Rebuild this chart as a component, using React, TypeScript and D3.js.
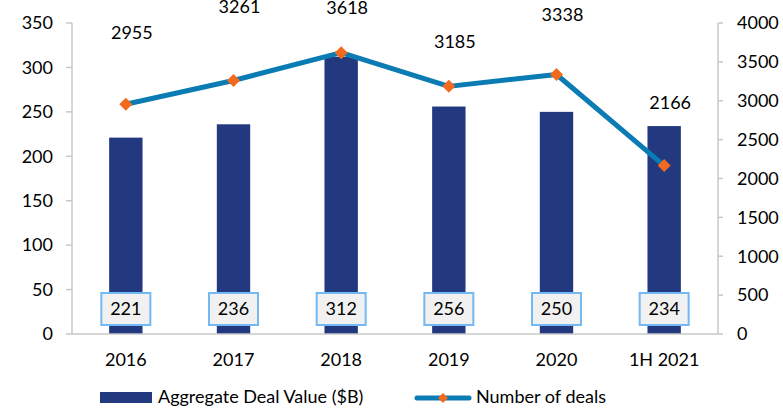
import React from "react";
import * as d3 from "d3";

const categories = ["2016", "2017", "2018", "2019", "2020", "1H 2021"];
const dealValue = [221, 236, 312, 256, 250, 234];
const dealCount = [2955, 3261, 3618, 3185, 3338, 2166];
const leftTicks = [0, 50, 100, 150, 200, 250, 300, 350];
const rightTicks = [0, 500, 1000, 1500, 2000, 2500, 3000, 3500, 4000];

const W = 783;
const H = 408;
const FONT = "Lato, 'Open Sans', sans-serif";
const FS = 18;

// how far each count label sits above its point (hand placed in the original)
const labelLift = [65, 67, 39, 38, 53, 57];

const App: React.FC = () => {
  const left = 72;
  const right = 718;
  const top = 23;
  const bottom = 334;

  const x = d3.scaleBand<string>().domain(categories).range([left, right]).paddingInner(0.69).paddingOuter(0.345);
  const yL = d3.scaleLinear().domain([0, 350]).range([bottom, top]);
  const yR = d3.scaleLinear().domain([0, 4000]).range([bottom, top]);
  const cx = (c: string) => (x(c) ?? 0) + x.bandwidth() / 2;

  const line = d3
    .line<number>()
    .x((_, i) => cx(categories[i]))
    .y((d) => yR(d));

  const diamond = (px: number, py: number, r: number) =>
    `M${px},${py - r}L${px + r},${py}L${px},${py + r}L${px - r},${py}Z`;

  return (
    <svg width={W} height={H} style={{ position: "absolute", left: 0, top: 0, background: "#fff" }} fontFamily={FONT}>
      {/* bars */}
      {dealValue.map((v, i) => (
        <rect
          key={categories[i]}
          x={x(categories[i])}
          y={yL(v)}
          width={x.bandwidth()}
          height={bottom - yL(v)}
          fill="#22387f"
        />
      ))}

      {/* axes */}
      <line x1={left} x2={right} y1={bottom} y2={bottom} stroke="#c8c8c8" strokeWidth={1.5} />
      <line x1={left} x2={left} y1={top} y2={bottom} stroke="#c8c8c8" strokeWidth={1.5} />
      <line x1={right} x2={right} y1={top} y2={bottom} stroke="#c8c8c8" strokeWidth={1.5} />
      {leftTicks.map((t) => (
        <g key={"l" + t}>
          <line x1={left - 6} x2={left} y1={yL(t)} y2={yL(t)} stroke="#c8c8c8" strokeWidth={1.5} />
          <text x={left - 19} y={yL(t)} dy="0.35em" textAnchor="end" fontSize={FS} fill="#000">
            {t}
          </text>
        </g>
      ))}
      {rightTicks.map((t) => (
        <g key={"r" + t}>
          <line x1={right} x2={right + 5} y1={yR(t)} y2={yR(t)} stroke="#c8c8c8" strokeWidth={1.5} />
          <text x={right + 19} y={yR(t)} dy="0.35em" textAnchor="start" fontSize={FS} fill="#000">
            {t}
          </text>
        </g>
      ))}
      {categories.map((c) => (
        <text key={"c" + c} x={cx(c)} y={bottom + 32} textAnchor="middle" fontSize={FS} fill="#000">
          {c}
        </text>
      ))}

      {/* value boxes at bar base */}
      {dealValue.map((v, i) => (
        <g key={"b" + i}>
          <rect
            x={cx(categories[i]) - 24.5}
            y={bottom - 41}
            width={49}
            height={32}
            fill="#f1f1f1"
            stroke="#74b8f4"
            strokeWidth={2}
          />
          <text x={cx(categories[i])} y={bottom - 25} dy="0.35em" textAnchor="middle" fontSize={FS} fill="#000">
            {v}
          </text>
        </g>
      ))}

      {/* deals line */}
      <path d={line(dealCount) ?? ""} fill="none" stroke="#0b7bb3" strokeWidth={5} strokeLinejoin="round" />
      {dealCount.map((v, i) => (
        <path key={"m" + i} d={diamond(cx(categories[i]), yR(v), 6.5)} fill="#f26a1e" />
      ))}
      {dealCount.map((v, i) => (
        <text
          key={"t" + i}
          x={cx(categories[i]) + 6}
          y={yR(v) - labelLift[i]}
          textAnchor="middle"
          fontSize={FS}
          fill="#000"
        >
          {v}
        </text>
      ))}

      {/* legend */}
      <rect x={100} y={392} width={52} height={11} fill="#22387f" />
      <text x={158} y={403} fontSize={FS} fill="#000">
        Aggregate Deal Value ($B)
      </text>
      <line x1={417} x2={469} y1={398} y2={398} stroke="#0b7bb3" strokeWidth={5} strokeLinecap="round" />
      <path d={diamond(443, 398, 5)} fill="#f26a1e" />
      <text x={476} y={403} fontSize={FS} fill="#000">
        Number of deals
      </text>
    </svg>
  );
};

export default App;
